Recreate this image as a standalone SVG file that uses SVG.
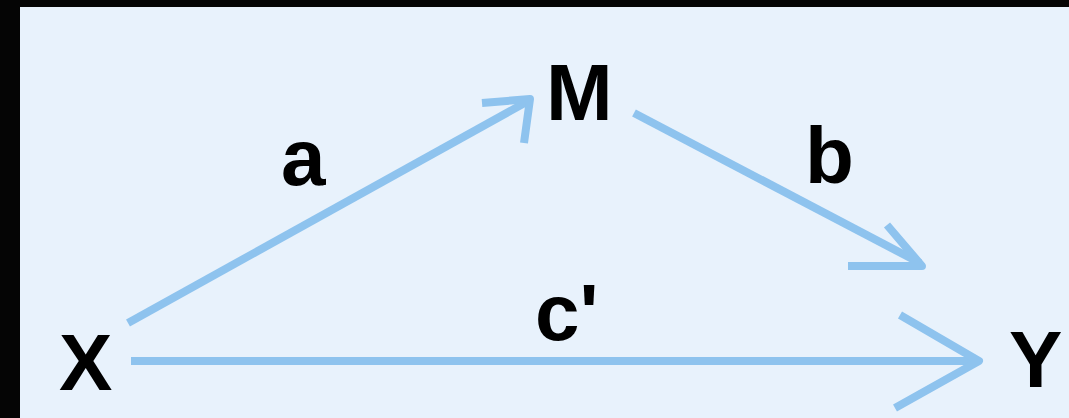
<svg xmlns="http://www.w3.org/2000/svg" width="1069" height="418" viewBox="0 0 1069 418">
<style>
.lbl{font-family:"Liberation Sans",Arial,sans-serif;font-weight:bold;font-size:80px;fill:#000}
.ln{fill:none;stroke:#8EC3EE;stroke-width:8;stroke-linecap:butt;stroke-linejoin:round}
</style>
<rect x="0" y="0" width="1069" height="418" fill="#050505"/>
<rect x="20" y="7" width="1049" height="411" fill="#E8F2FC"/>
<g id="connectors">
<path class="ln" d="M128 323 L530 100"/>
<path class="ln" d="M482 103 L530 99 L524 143"/>
<path class="ln" d="M634 113 L920 263"/>
<path class="ln" d="M848 266 L922 266 L887 225"/>
<path class="ln" d="M131 361 L978 361"/>
<path class="ln" d="M900 315 L979 361 L895 408"/>
</g>
<g id="node-X"><text class="lbl" x="59" y="390">X</text></g>
<g id="node-M"><text class="lbl" x="546" y="120">M</text></g>
<g id="node-Y"><text class="lbl" x="1009" y="387">Y</text></g>
<g id="label-a"><text class="lbl" x="281" y="185">a</text></g>
<g id="label-b"><text class="lbl" x="805" y="183">b</text></g>
<g id="label-c"><text class="lbl" x="535" y="340">c'</text></g>
</svg>
